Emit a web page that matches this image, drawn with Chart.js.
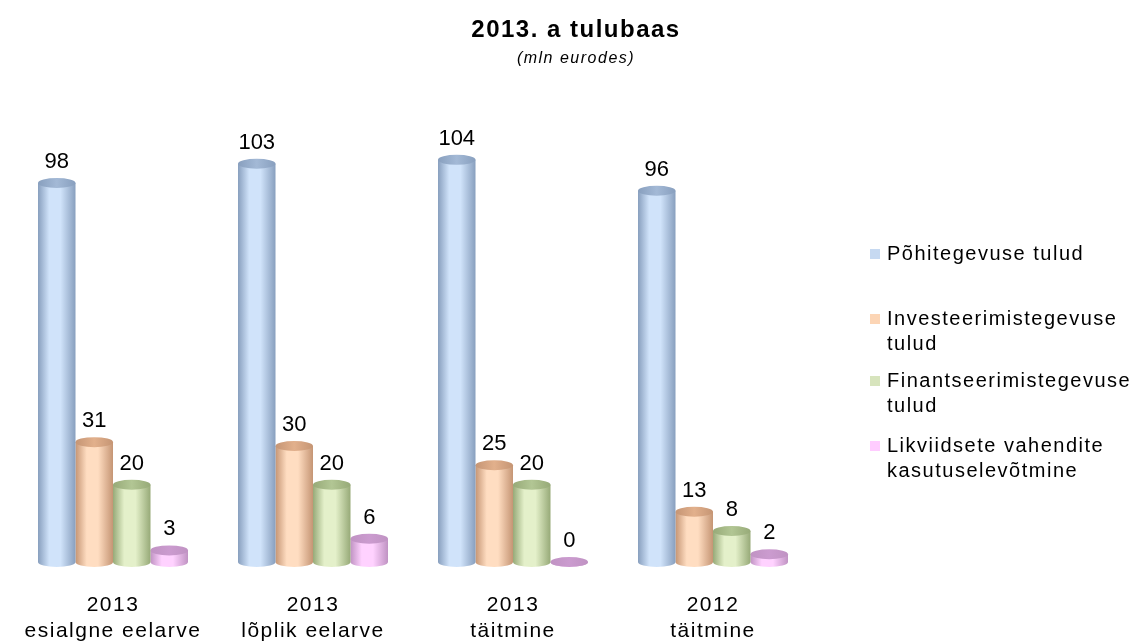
<!DOCTYPE html>
<html>
<head>
<meta charset="utf-8">
<script src="https://cdn.jsdelivr.net/npm/chart.js@4"></script>
<style>
  body { margin: 0; background: #fff; }
  #wrap { position: relative; width: 1139px; height: 641px; }
  #legend { position: absolute; left: 870px; top: 0; font-family: "Liberation Sans", Arial, sans-serif; font-size: 20px; letter-spacing: 1.5px; color: #000; }
  .item { position: absolute; left: 0; white-space: pre; line-height: 25px; padding-left: 17px; }
  .item span { position: absolute; left: 0; top: 8px; width: 10px; height: 10px; }
</style>
</head>
<body>
<div id="wrap">
  <canvas id="chartCanvas"></canvas>
  <div id="legend"></div>
</div>
<script>
const categories = [["2013", "esialgne eelarve"], ["2013", "lõplik eelarve"], ["2013", "täitmine"], ["2012", "täitmine"]];
const seriesNames = ["Põhitegevuse tulud", "Investeerimistegevuse\ntulud", "Finantseerimistegevuse\ntulud", "Likviidsete vahendite\nkasutuselevõtmine"];
const pohitegevus = [98, 103, 104, 96];
const investeerimine = [31, 30, 25, 13];
const finantseerimine = [20, 20, 20, 8];
const likviidsed = [3, 6, 0, 2];

// legend square colour + cylinder shades
const legendColors = ["#c6d9f1", "#fcd5b5", "#d7e4bd", "#ffccff"];
const cylColors = [
    { light: "#d0e3fa", dark: "#889fbe", top: "#a3b9d6" },
    { light: "#ffddc1", dark: "#c59574", top: "#e2b08c" },
    { light: "#e4f0ca", dark: "#97aa78", top: "#b2c694" },
    { light: "#ffd2ff", dark: "#c093c3", top: "#cb9bcf" }
];

const fontFamily = '"Liberation Sans", Arial, sans-serif';

const seriesData = [pohitegevus, investeerimine, finantseerimine, likviidsed];

const cylinderPlugin = {
    id: "cylinders",
    beforeLayout: (chart) => { chart.ctx.letterSpacing = "1.5px"; },
    beforeDraw: (chart) => { chart.ctx.letterSpacing = "1.5px"; },
    beforeDatasetDraw: (chart, args) => {
        let ctx = chart.ctx;
        let c = cylColors[args.index];
        let values = chart.data.datasets[args.index].data;
        ctx.save();
        args.meta.data.forEach((bar, i) => {
            let x = bar.x;
            let top = bar.y;
            let base = bar.base;
            let rx = bar.width / 2;
            let ry = 5;

            let g = ctx.createLinearGradient(x - rx, 0, x + rx, 0);
            g.addColorStop(0, c.dark);
            g.addColorStop(0.3, c.light);
            g.addColorStop(0.6, c.light);
            g.addColorStop(1, c.dark);

            ctx.beginPath();
            ctx.moveTo(x - rx, top);
            ctx.lineTo(x - rx, base);
            ctx.ellipse(x, base, rx, ry, 0, Math.PI, 0, true);
            ctx.lineTo(x + rx, top);
            ctx.closePath();
            ctx.fillStyle = g;
            ctx.fill();

            let gt = ctx.createLinearGradient(x - rx, 0, x + rx, 0);
            gt.addColorStop(0, c.dark);
            gt.addColorStop(0.5, c.top);
            gt.addColorStop(1, c.dark);
            ctx.beginPath();
            ctx.ellipse(x, top, rx, ry, 0, 0, Math.PI * 2);
            ctx.fillStyle = gt;
            ctx.fill();

            ctx.letterSpacing = "0px";
            ctx.fillStyle = "#000";
            ctx.font = "22px " + fontFamily;
            ctx.textAlign = "center";
            ctx.textBaseline = "middle";
            ctx.fillText(String(values[i]), x, top - 21);
        });
        ctx.restore();
        return false;
    }
};

let chart = new Chart(document.getElementById("chartCanvas"), {
    type: "bar",
    data: {
        labels: categories,
        datasets: seriesNames.map((name, i) => ({
            label: name.replace("\n", " "),
            data: seriesData[i],
            backgroundColor: legendColors[i],
            borderWidth: 0,
            categoryPercentage: 0.75,
            barPercentage: 1.0
        }))
    },
    options: {
        responsive: true,
        maintainAspectRatio: false,
        animation: false,
        layout: { autoPadding: false, padding: { left: 13, right: 0, top: 0, bottom: 0 } },
        plugins: {
            legend: { display: false },
            tooltip: { enabled: false },
            title: {
                display: true,
                text: "2013. a tulubaas",
                color: "#000",
                font: { family: fontFamily, size: 24, weight: "bold" },
                padding: { top: 16, bottom: 4 }
            },
            subtitle: {
                display: true,
                text: "(mln eurodes)",
                color: "#000",
                font: { family: fontFamily, size: 16, style: "italic" },
                padding: { top: 0, bottom: 30 }
            }
        },
        scales: {
            x: {
                grid: { display: false, drawTicks: false },
                border: { display: false },
                ticks: {
                    color: "#000",
                    font: { family: fontFamily, size: 21 },
                    padding: 31,
                    maxRotation: 0,
                    autoSkip: false
                },
                afterFit: (scale) => {
                    scale.height = 79;
                    scale.paddingLeft = 0;
                    scale.paddingRight = 0;
                }
            },
            y: { display: false, min: 0, max: 120 },
            yRight: {
                type: "linear",
                position: "right",
                grid: { display: false, drawTicks: false },
                border: { display: false },
                ticks: { display: false },
                afterFit: (scale) => { scale.width = 326; }
            }
        }
    },
    plugins: [cylinderPlugin]
});

// html legend, lines broken like the original
let legendDiv = document.getElementById("legend");
const legendTops = [241, 306, 368, 433];
seriesNames.forEach((name, i) => {
    let item = document.createElement("div");
    item.className = "item";
    item.style.top = legendTops[i] + "px";
    item.textContent = name;
    let box = document.createElement("span");
    box.style.background = legendColors[i];
    item.prepend(box);
    legendDiv.appendChild(item);
});
</script>
</body>
</html>
